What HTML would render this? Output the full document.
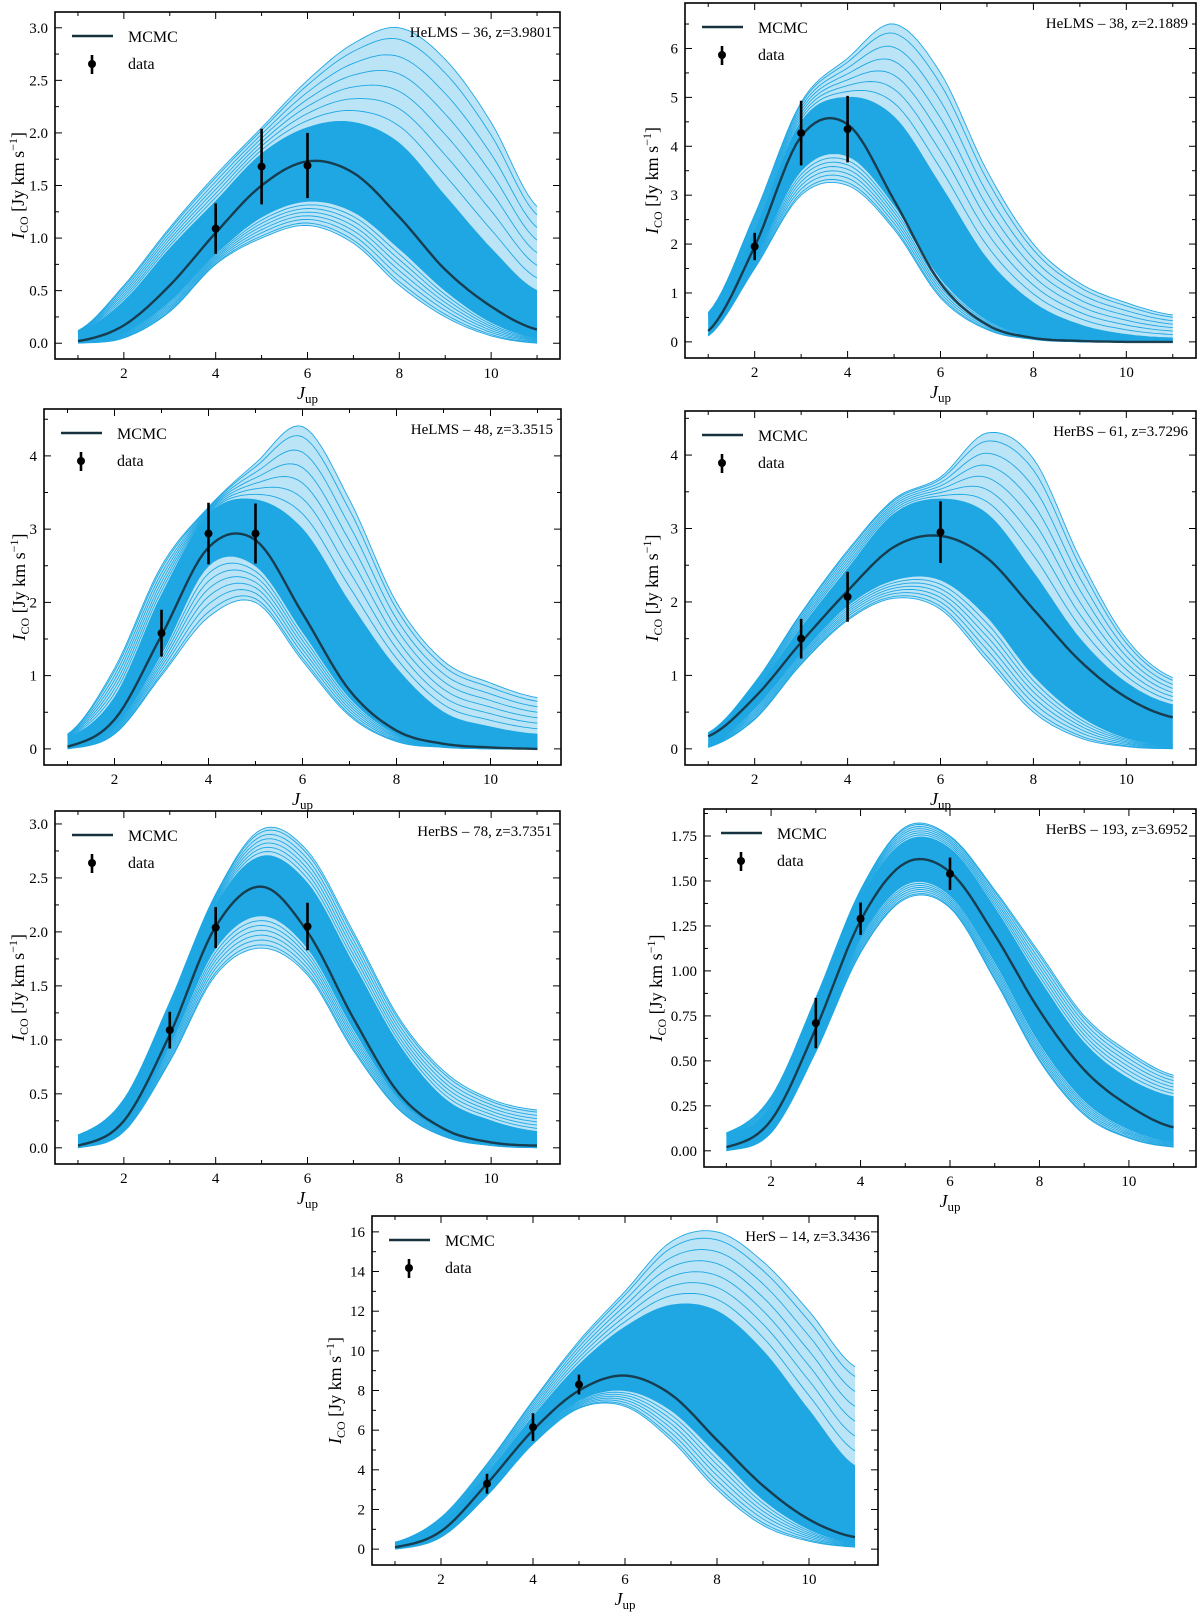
<!DOCTYPE html>
<html><head><meta charset="utf-8"><style>
html,body{margin:0;padding:0;background:#fff;}
svg{display:block;font-family:"Liberation Serif",serif;}
</style></head><body>
<svg id="fig" width="1200" height="1613" viewBox="0 0 1200 1613" xmlns="http://www.w3.org/2000/svg"></svg>
<script>
// ---- data (J_up = 1..11) ----
const jGrid = [1,2,3,4,5,6,7,8,9,10,11];
const titles = ["HeLMS \u2013 36, z=3.9801","HeLMS \u2013 38, z=2.1889","HeLMS \u2013 48, z=3.3515","HerBS \u2013 61, z=3.7296","HerBS \u2013 78, z=3.7351","HerBS \u2013 193, z=3.6952","HerS \u2013 14, z=3.3436"];
const bestFit = [
 [0.02,0.17,0.55,1.05,1.5,1.73,1.62,1.2,0.7,0.35,0.13],
 [0.22,1.95,4.2,4.45,2.9,1.2,0.35,0.08,0.02,0,0],
 [0.03,0.4,1.55,2.75,2.85,1.85,0.8,0.25,0.07,0.02,0.0],
 [0.17,0.7,1.45,2.15,2.75,2.9,2.6,1.9,1.2,0.7,0.43],
 [0.02,0.25,1.05,2.05,2.42,2.0,1.2,0.5,0.17,0.05,0.02],
 [0.02,0.17,0.68,1.28,1.6,1.55,1.2,0.78,0.45,0.25,0.13],
 [0.1,0.9,3.3,6.0,8.0,8.75,7.8,5.5,3.2,1.5,0.6]];
const sampleHi = [
 [0.12,0.55,1.1,1.6,2.05,2.5,2.85,3.0,2.7,2.1,1.3],
 [0.6,2.6,4.9,5.8,6.5,5.5,3.5,2.0,1.2,0.8,0.55],
 [0.2,1.1,2.5,3.3,3.9,4.4,3.4,2.0,1.2,0.9,0.7],
 [0.22,0.9,1.85,2.7,3.4,3.7,4.3,3.95,2.6,1.5,0.97],
 [0.12,0.45,1.35,2.35,2.95,2.75,2.0,1.2,0.7,0.45,0.35],
 [0.1,0.3,0.85,1.45,1.8,1.75,1.45,1.1,0.75,0.55,0.42],
 [0.35,1.6,4.3,7.5,10.5,13.0,15.5,16.0,14.5,12.0,9.2]];
const sampleLo = [
 [0.0,0.05,0.3,0.75,1.0,1.12,0.95,0.55,0.25,0.07,0.0],
 [0.12,1.5,3.0,3.2,2.3,0.9,0.25,0.05,0.0,0,0],
 [0.0,0.2,1.0,1.8,2.0,1.2,0.45,0.1,0.02,0,0],
 [0.02,0.4,1.15,1.75,2.05,1.9,1.2,0.5,0.15,0.03,0.0],
 [0.0,0.15,0.8,1.6,1.85,1.6,0.9,0.35,0.1,0.02,0],
 [0.0,0.1,0.55,1.1,1.4,1.35,0.95,0.5,0.2,0.07,0.02],
 [0.0,0.6,2.7,5.3,7.1,7.2,5.5,3.0,1.2,0.4,0.1]];
const coreHi = [
 [0.1,0.4,0.9,1.35,1.8,2.05,2.1,1.9,1.4,0.9,0.5],
 [0.5,2.3,4.5,5.0,4.6,3.2,1.7,0.8,0.35,0.15,0.08],
 [0.15,0.7,2.1,3.2,3.4,3.0,2.0,1.1,0.5,0.3,0.2],
 [0.2,0.8,1.65,2.45,3.2,3.4,3.2,2.4,1.5,0.9,0.6],
 [0.1,0.4,1.25,2.25,2.7,2.45,1.7,0.95,0.45,0.25,0.15],
 [0.08,0.25,0.8,1.4,1.72,1.68,1.35,0.95,0.6,0.4,0.3],
 [0.3,1.3,3.8,6.7,9.3,11.2,12.3,12.0,10.0,7.0,4.2]];
const coreLo = [
 [0.02,0.1,0.4,0.85,1.2,1.35,1.25,0.9,0.5,0.2,0.05],
 [0.15,1.7,3.5,3.8,2.8,1.3,0.45,0.12,0.02,0,0],
 [0.02,0.3,1.3,2.5,2.5,1.6,0.7,0.2,0.05,0.01,0],
 [0.05,0.55,1.3,1.95,2.3,2.3,1.8,1.0,0.45,0.15,0.05],
 [0.01,0.2,0.95,1.85,2.15,1.85,1.1,0.45,0.15,0.04,0.01],
 [0.01,0.13,0.6,1.18,1.48,1.42,1.05,0.6,0.28,0.12,0.05],
 [0.05,0.75,3.0,5.6,7.5,8.0,7.0,4.8,2.5,1.0,0.3]];
const dataJ = [[4,5,6],[2,3,4],[3,4,5],[3,4,6],[3,4,6],[3,4,6],[3,4,5]];
const dataVal = [[1.09,1.68,1.69],[1.95,4.27,4.35],[1.58,2.94,2.94],[1.5,2.07,2.95],[1.09,2.04,2.05],[0.71,1.29,1.54],[3.3,6.15,8.3]];
const dataErr = [[0.24,0.36,0.31],[0.28,0.66,0.68],[0.32,0.42,0.41],[0.27,0.34,0.42],[0.17,0.19,0.22],[0.14,0.09,0.09],[0.5,0.7,0.5]];
const yTickVals = [[0,0.5,1,1.5,2,2.5,3],[0,1,2,3,4,5,6],[0,1,2,3,4],[0,1,2,3,4],[0,0.5,1,1.5,2,2.5,3],[0,0.25,0.5,0.75,1,1.25,1.5,1.75],[0,2,4,6,8,10,12,14,16]];
const yTickLabels = [["0.0","0.5","1.0","1.5","2.0","2.5","3.0"],["0","1","2","3","4","5","6"],["0","1","2","3","4"],["0","1","2","3","4"],["0.0","0.5","1.0","1.5","2.0","2.5","3.0"],["0.00","0.25","0.50","0.75","1.00","1.25","1.50","1.75"],["0","2","4","6","8","10","12","14","16"]];
const yLims = [[-0.15,3.15],[-0.33,6.93],[-0.22,4.64],[-0.22,4.6],[-0.15,3.12],[-0.09,1.9],[-0.8,16.8]];
const xTickVals = [2,4,6,8,10];
const xTickLabels = ["2","4","6","8","10"];
const xLim = [0.5,11.5];
// ---- layout (pixel boxes) ----
const boxes = [[55,12,560,359],[685,3,1196,358],[44,409,561,765],[685,411,1196,765],[55,811,560,1164],[704,809,1196,1167],[372,1216,878,1565]];
const yLabelX = [18,652,19,652,18,656,335];

const NS="http://www.w3.org/2000/svg";
const fig=document.getElementById('fig');
function el(tag,attrs,parent){const e=document.createElementNS(NS,tag);for(const k in attrs)e.setAttribute(k,attrs[k]);(parent||fig).appendChild(e);return e;}
function cr(arr,x){
  const t=x-1;let i=Math.floor(t);if(i<0)i=0;if(i>arr.length-2)i=arr.length-2;const u=t-i;
  const p0=arr[Math.max(i-1,0)],p1=arr[i],p2=arr[i+1],p3=arr[Math.min(i+2,arr.length-1)];
  return 0.5*((2*p1)+(-p0+p2)*u+(2*p0-5*p1+4*p2-p3)*u*u+(-p0+3*p1-3*p2+p3)*u*u*u);
}
function curvePts(arr,sx,sy){const pts=[];for(let x=1;x<=11.0001;x+=0.1){pts.push(sx(x).toFixed(1)+','+sy(cr(arr,x)).toFixed(1));}return pts;}
const mixF=[0.15,0.3,0.45,0.6,0.75,0.9];

boxes.forEach((b,p)=>{
  const [L,T,R,B]=b;
  const g=el('g',{});
  
  
  const sx=x=>L+(x-xLim[0])/(xLim[1]-xLim[0])*(R-L);
  const sy=y=>B-(y-yLims[p][0])/(yLims[p][1]-yLims[p][0])*(B-T);
  const clipId='clip'+p;
  const cp=el('clipPath',{id:clipId},g);el('rect',{x:L,y:T,width:R-L,height:B-T},cp);
  const plot=el('g',{'clip-path':'url(#'+clipId+')'},g);
  
  
  const hiP=curvePts(sampleHi[p],sx,sy),loP=curvePts(sampleLo[p],sx,sy);
  el('polygon',{points:hiP.concat(loP.slice().reverse()).join(' '),fill:'#1fa7e3','fill-opacity':'0.3',stroke:'none'},plot);
  const cH=curvePts(coreHi[p],sx,sy),cL=curvePts(coreLo[p],sx,sy);
  const core=el('polygon',{points:cH.concat(cL.slice().reverse()).join(' '),fill:'#1fa7e3',stroke:'none'},plot);
  
  
  const lines=[sampleHi[p],sampleLo[p],coreHi[p],coreLo[p]];
  mixF.forEach(f=>{
    lines.push(coreHi[p].map((v,i)=>v+f*(sampleHi[p][i]-v)));
    lines.push(coreLo[p].map((v,i)=>v+f*(sampleLo[p][i]-v)));
  });
  lines.forEach(a=>{
    const ln=el('polyline',{points:curvePts(a,sx,sy).join(' '),fill:'none',stroke:'#1fa7e3','stroke-width':'0.9'},plot);
    
    
  });
  const bf=el('polyline',{points:curvePts(bestFit[p],sx,sy).join(' '),fill:'none',stroke:'#16323f','stroke-width':'2.4','stroke-opacity':'0.9'},plot);
  
  
  dataJ[p].forEach((j,i)=>{
    const v=dataVal[p][i],e=dataErr[p][i];
    const eb=el('line',{x1:sx(j),x2:sx(j),y1:sy(v-e),y2:sy(v+e),stroke:'#000','stroke-width':'2.6'},g);
    
    
    const pt=el('circle',{cx:sx(j),cy:sy(v),r:4,fill:'#000'},g);
    
    
  });
  const fr=el('rect',{x:L,y:T,width:R-L,height:B-T,fill:'none',stroke:'#000','stroke-width':'1.6'},g);
  
  
  for(let x=1;x<=11;x++){
    const maj=x%2===0;const len=maj?7:4;
    el('line',{x1:sx(x),x2:sx(x),y1:B,y2:B-len,stroke:'#000','stroke-width':'1'},g);
    el('line',{x1:sx(x),x2:sx(x),y1:T,y2:T+len,stroke:'#000','stroke-width':'1'},g);
  }
  xTickVals.forEach((x,i)=>{
    const t=el('text',{x:sx(x),y:B+19,'text-anchor':'middle','font-size':'15'},g);t.textContent=xTickLabels[i];
    
    
  });
  const yt=yTickVals[p];const step=yt[1]-yt[0];
  for(let k=-2;k<yt.length*2+2;k++){
    const y=yt[0]+k*step/2;if(sy(y)>B||sy(y)<T)continue;
    const len=k%2===0?7:4;
    el('line',{x1:L,x2:L+len,y1:sy(y),y2:sy(y),stroke:'#000','stroke-width':'1'},g);
    el('line',{x1:R,x2:R-len,y1:sy(y),y2:sy(y),stroke:'#000','stroke-width':'1'},g);
  }
  yt.forEach((y,i)=>{
    const t=el('text',{x:L-7,y:sy(y)+5,'text-anchor':'end','font-size':'15'},g);t.textContent=yTickLabels[p][i];
    
    
  });
  const xl=el('text',{x:(L+R)/2,y:B+40,'text-anchor':'middle','font-size':'18'},g);
  xl.innerHTML='<tspan font-style="italic">J</tspan><tspan font-size="13" dy="4">up</tspan>';
  
  
  const yl=el('text',{x:0,y:0,'text-anchor':'middle','font-size':'18',transform:'translate('+(yLabelX[p]+6)+','+((T+B)/2)+') rotate(-90)'},g);
  yl.innerHTML='<tspan font-style="italic">I</tspan><tspan font-size="12" dy="4">CO</tspan><tspan dy="-4"> [Jy km s</tspan><tspan font-size="12" dy="-7">\u22121</tspan><tspan dy="7">]</tspan>';
  
  
  const tt=el('text',{x:R-8,y:T+25,'text-anchor':'end','font-size':'15'},g);tt.textContent=titles[p];
  
  
  const lg=el('g',{},g);
  
  
  el('line',{x1:L+17,x2:L+58,y1:T+24,y2:T+24,stroke:'#16323f','stroke-width':'2.4'},lg);
  const t1=el('text',{x:L+73,y:T+30,'font-size':'16'},lg);t1.textContent='MCMC';
  
  
  el('line',{x1:L+37,x2:L+37,y1:T+43,y2:T+62,stroke:'#000','stroke-width':'2.6'},lg);
  el('circle',{cx:L+37,cy:T+52,r:4,fill:'#000'},lg);
  const t2=el('text',{x:L+73,y:T+57,'font-size':'16'},lg);t2.textContent='data';
  
  
});
</script>
</body></html>
